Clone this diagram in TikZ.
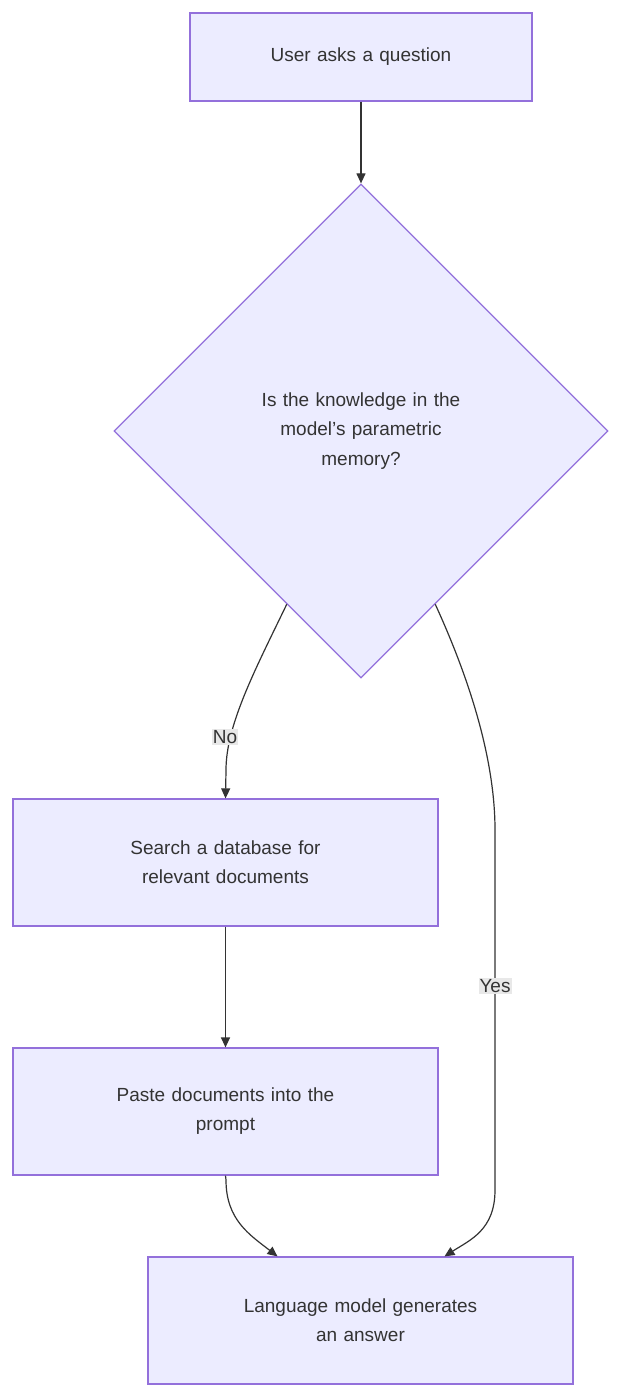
\documentclass[tikz,border=0pt]{standalone}
\usepackage{fontspec}
\setmainfont{Liberation Sans}
\usetikzlibrary{shapes.geometric, arrows.meta, positioning, calc}
\definecolor{boxfill}{HTML}{ECECFF}
\definecolor{boxline}{HTML}{9370DB}
\definecolor{edgecol}{HTML}{333333}
\definecolor{labelbg}{HTML}{E8E8E8}
\tikzstyle{process} = [
  rectangle,
  minimum width=425pt,
  minimum height=127pt,
  text centered,
  text width=300pt,
  inner sep=0,
  draw=boxline,
  line width=1.2pt,
  fill=boxfill,
  text=edgecol,
  font=\fontsize{19}{29}\selectfont
]
\tikzstyle{decision} = [
  diamond,
  minimum width=494pt,
  minimum height=494pt,
  aspect=1,
  text centered,
  text width=290pt,
  inner sep=0,
  draw=boxline,
  line width=1.2pt,
  fill=boxfill,
  text=edgecol,
  font=\fontsize{19}{29.5}\selectfont
]
\tikzstyle{edgelabel} = [
  fill=labelbg,
  inner sep=1pt,
  text=edgecol,
  font=\fontsize{19}{23}\selectfont
]
\tikzstyle{arrow} = [
  line width=1.2pt,
  draw=edgecol,
  -{Triangle[length=10pt,width=9pt]}
]

\begin{document}
\begin{tikzpicture}[x=1pt, y=-1pt]

    \useasboundingbox (0,0) rectangle (622,1398);

    \node (ask) [process, minimum width=342pt, minimum height=88pt] at (361,57) {User asks a question};
    \node (memory) [decision] at (361,431) {Is the knowledge in the\\model's parametric\\memory?};
    \node (search) [process] at (225.5,862.5) {Search a database for\\relevant documents};
    \node (paste) [process] at (225.5,1111.5) {Paste documents into the\\prompt};
    \node (answer) [process] at (360.5,1320.5) {Language model generates\\an answer};

    \draw [arrow] (ask) -- (memory);
    \draw [arrow] ($(memory.west)!0.7!(memory.south)$) .. controls (255,670) and (226,725) .. (226,770) -- (search.north);
    \node (no) [edgelabel] at (225,737) {No};
    \draw [arrow] ($(memory.east)!0.7!(memory.south)$) .. controls (470,680) and (495,760) .. (495,830) -- (495,1190) .. controls (495,1230) and (470,1240) .. ([xshift=84pt]answer.north);
    \node (yes) [edgelabel] at (495,986) {Yes};
    \draw [arrow] (search) -- (paste);
    \draw [arrow] (paste.south) -- (226,1180) .. controls (226,1220) and (250,1235) .. ([xshift=-83pt]answer.north);

  \end{tikzpicture}
\end{document}
